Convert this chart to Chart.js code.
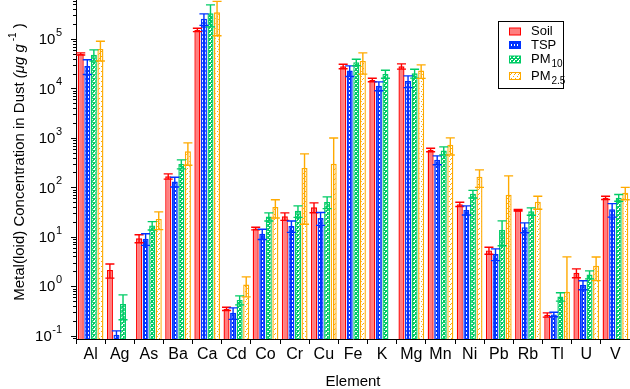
<!DOCTYPE html>
<html>
<head>
<meta charset="utf-8">
<script src="https://cdn.jsdelivr.net/npm/chart.js@4/dist/chart.umd.min.js"></script>
<style>
html, body { margin: 0; padding: 0; background: #fff; }
#wrap { width: 630px; height: 389px; position: relative; }
</style>
</head>
<body>
<div id="wrap"><canvas id="chart"></canvas></div>
<script>
'use strict';

const elements = ['Al', 'Ag', 'As', 'Ba', 'Ca', 'Cd', 'Co', 'Cr', 'Cu', 'Fe', 'K', 'Mg', 'Mn', 'Ni', 'Pb', 'Rb', 'Tl', 'U', 'V'];

const soil     = [50000, 2.14, 9.3, 167, 153000, 0.35, 14.7, 26, 39.6, 28000, 14900, 28000, 573, 45.5, 5.3, 34.4, 0.264, 1.87, 61.4];
const soilErr  = [2500, 0.68, 1.7, 20, 12000, 0.026, 0.9, 4.5, 9, 2900, 1200, 3400, 47, 4.5, 0.85, 1.2, 0.026, 0.38, 4.6];

const tsp      = [28600, 0.104, 9.1, 131, 256000, 0.29, 11.5, 16.6, 24, 23000, 11300, 14200, 360, 35, 4.5, 15.6, 0.27, 1.07, 36];
const tspErr   = [9400, 0.021, 2.4, 29, 67000, 0.076, 2.7, 4.3, 7, 5600, 2300, 3800, 73, 7.3, 1.2, 3.5, 0.028, 0.22, 11];

const pm10     = [48000, 0.44, 17, 298, 333000, 0.53, 25.7, 33.5, 50.7, 34000, 19700, 20300, 555, 74, 13.8, 32.9, 0.62, 1.73, 62];
const pm10Err  = [12300, 0.23, 3.3, 62, 157000, 0.11, 4.8, 8.8, 13.6, 5000, 3600, 4100, 104, 13, 7.2, 5.6, 0.12, 0.32, 9.5];

const pm25     = [63000, null, 23, 537, 346000, 1.08, 40, 247, 299, 36000, null, 23000, 725, 163, 70.6, 51, 0.77, 2.6, 78];
const pm25Err  = [27000, null, 9, 257, 230000, 0.47, 16, 229, 700, 16500, null, 7000, 275, 63, 100, 15, 3.16, 1.3, 22];

const yMin = 0.0858;
const yMax = 615000;
const decades = [-1, 0, 1, 2, 3, 4, 5];

function makePattern(w, h, bg, fg, pixels) {
    const c = document.createElement('canvas');
    c.width = w; c.height = h;
    const g = c.getContext('2d');
    g.fillStyle = bg;
    g.fillRect(0, 0, w, h);
    g.fillStyle = fg;
    pixels.forEach(p => g.fillRect(p[0], p[1], 1, 1));
    return g.createPattern(c, 'repeat');
}

const tspFill = makePattern(3, 4, '#0033ff', '#ffffff', [[1, 0], [1, 1]]);
const pm10Fill = makePattern(4, 4, '#ffffff', '#00cc66',
    [[0, 0], [1, 0], [3, 0], [0, 1], [3, 1], [0, 2], [1, 2], [2, 2], [3, 2], [1, 3], [2, 3]]);
const pm25Fill = makePattern(4, 5, '#ffffff', '#ffaa00', [[1, 1], [3, 3], [2, 4]]);

const series = [
    { label: 'Soil', sub: '', data: soil, err: soilErr, fill: '#ff7f7f', line: '#ff0000' },
    { label: 'TSP', sub: '', data: tsp, err: tspErr, fill: tspFill, line: '#0033ff' },
    { label: 'PM', sub: '10', data: pm10, err: pm10Err, fill: pm10Fill, line: '#00cc66' },
    { label: 'PM', sub: '2.5', data: pm25, err: pm25Err, fill: pm25Fill, line: '#ffaa00' }
];

const FONT = '"Liberation Sans", Arial, sans-serif';

const errorBars = {
    id: 'errorBars',
    afterDatasetsDraw(chart) {
        const ctx = chart.ctx;
        const y = chart.scales.y;
        const area = chart.chartArea;
        ctx.save();
        ctx.beginPath();
        ctx.rect(area.left, area.top, area.right - area.left, area.bottom - area.top);
        ctx.clip();
        ctx.lineWidth = 1.4;
        series.forEach((s, i) => {
            const meta = chart.getDatasetMeta(i);
            meta.data.forEach((bar, j) => {
                const v = s.data[j];
                const e = s.err[j];
                if (v == null || e == null) return;
                const x = bar.x;
                const yTop = y.getPixelForValue(v + e);
                const lo = v - e;
                const yLow = lo > yMin ? y.getPixelForValue(lo) : area.bottom;
                const half = bar.width / 2 + 1.5;
                ctx.strokeStyle = s.line;
                ctx.beginPath();
                ctx.moveTo(x, yTop); ctx.lineTo(x, yLow);
                ctx.moveTo(x - half, yTop); ctx.lineTo(x + half, yTop);
                if (lo > yMin) { ctx.moveTo(x - half, yLow); ctx.lineTo(x + half, yLow); }
                ctx.stroke();
            });
        });
        ctx.restore();
    }
};

const axisDecor = {
    id: 'axisDecor',
    afterDraw(chart) {
        const ctx = chart.ctx;
        const y = chart.scales.y;
        const area = chart.chartArea;
        ctx.save();
        // y ticks, long at decades and short in between
        ctx.strokeStyle = '#000';
        ctx.lineWidth = 1;
        for (let n = -2; n <= 5; n++) {
            for (let k = 1; k <= 9; k++) {
                const v = k * Math.pow(10, n);
                if (v < yMin || v > yMax) continue;
                const py = Math.round(y.getPixelForValue(v)) + 0.5;
                const len = k === 1 ? 5 : 3;
                ctx.beginPath();
                ctx.moveTo(area.left - len, py);
                ctx.lineTo(area.left, py);
                ctx.stroke();
            }
        }
        // y tick labels 10^n
        ctx.fillStyle = '#000';
        decades.forEach(n => {
            const py = y.getPixelForValue(Math.pow(10, n));
            const expText = String(n);
            ctx.font = '11px ' + FONT;
            const ew = ctx.measureText(expText).width;
            const right = 62;
            ctx.textAlign = 'left';
            ctx.textBaseline = 'alphabetic';
            ctx.fillText(expText, right - ew, py - 3);
            ctx.font = '15px ' + FONT;
            ctx.textAlign = 'right';
            ctx.textBaseline = 'middle';
            ctx.fillText('10', right - ew - 0.5, py + 1);
        });
        // y axis title
        ctx.translate(20, 162);
        ctx.rotate(-Math.PI / 2);
        const parts = [
            { t: 'Metal(loid) Concentration in Dust ', f: '15px ' + FONT, dy: 0 },
            { t: '(\u03bcg g', f: 'italic 15px ' + FONT, dy: 0 },
            { t: ' -1', f: '10px ' + FONT, dy: -7 },
            { t: ' )', f: '15px ' + FONT, dy: 0 }
        ];
        let total = 0;
        parts.forEach(p => { ctx.font = p.f; p.w = ctx.measureText(p.t).width; total += p.w; });
        let px = -total / 2;
        ctx.textAlign = 'left';
        ctx.textBaseline = 'middle';
        parts.forEach(p => {
            ctx.font = p.f;
            ctx.fillText(p.t, px, p.dy);
            px += p.w;
        });
        ctx.restore();

        // legend
        ctx.save();
        ctx.strokeStyle = '#000';
        ctx.lineWidth = 1;
        ctx.fillStyle = '#fff';
        ctx.fillRect(498.5, 21.5, 65, 67);
        ctx.strokeRect(498.5, 21.5, 65, 67);
        const rows = [31.5, 45, 59.5, 76];
        series.forEach((s, i) => {
            const cy = rows[i];
            ctx.fillStyle = s.fill;
            ctx.fillRect(509, cy - 3.5, 12, 7);
            ctx.strokeStyle = s.line;
            ctx.lineWidth = 1;
            ctx.strokeRect(509.5, cy - 3.5, 11, 7);
            ctx.fillStyle = '#000';
            ctx.font = '13px ' + FONT;
            ctx.textAlign = 'left';
            ctx.textBaseline = 'middle';
            ctx.fillText(s.label, 531, cy);
            if (s.sub) {
                const w = ctx.measureText(s.label).width;
                ctx.font = '10px ' + FONT;
                ctx.fillText(s.sub, 531 + w + 1, cy + 5);
            }
        });
        ctx.restore();
    }
};

new Chart(document.getElementById('chart'), {
    type: 'bar',
    data: {
        labels: elements,
        datasets: series.map(s => ({
            label: s.sub ? s.label + s.sub : s.label,
            data: s.data,
            backgroundColor: s.fill,
            borderColor: s.line,
            borderWidth: 1.4,
            borderSkipped: 'bottom',
            categoryPercentage: 0.9,
            barPercentage: 0.92
        }))
    },
    options: {
        responsive: true,
        maintainAspectRatio: false,
        devicePixelRatio: 1,
        animation: false,
        layout: { padding: { top: 0, right: 0, left: 0, bottom: 0 } },
        plugins: {
            legend: { display: false },
            tooltip: { enabled: false }
        },
        scales: {
            x: {
                offset: true,
                grid: { display: true, offset: true, drawOnChartArea: false, tickLength: 5, color: '#000' },
                border: { display: true, color: '#000', width: 1 },
                ticks: { color: '#000', font: { size: 16, family: FONT }, padding: 1, maxRotation: 0, autoSkip: false },
                title: { display: true, text: 'Element', color: '#000', font: { size: 15, family: FONT }, padding: { top: 0, bottom: -2 } },
                afterFit(scale) { scale.height = 50; }
            },
            y: {
                type: 'logarithmic',
                min: yMin,
                max: yMax,
                grid: { display: false },
                border: { display: true, color: '#000', width: 1 },
                ticks: { display: false },
                afterFit(scale) { scale.width = 76; }
            }
        }
    },
    plugins: [errorBars, axisDecor]
});
</script>
</body>
</html>
